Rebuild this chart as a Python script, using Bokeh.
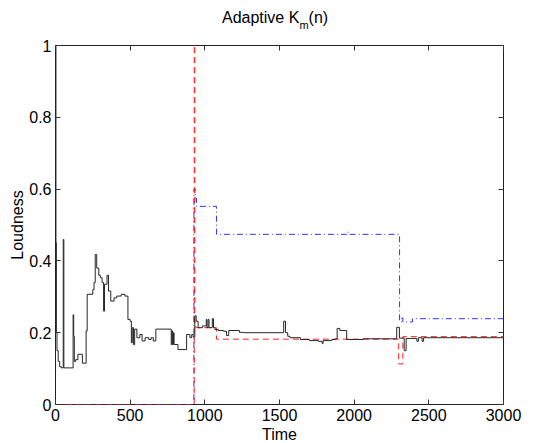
from bokeh.plotting import figure
from bokeh.models import LinearAxis, FixedTicker, Range1d, Div, CustomJSTickFormatter
from bokeh.layouts import column
from bokeh.embed import file_html
from bokeh.resources import INLINE

# ---- data ----
loud_t = [0, 3, 6, 10, 18, 28, 40, 52, 56, 118, 122, 126, 135, 150, 180, 205, 212, 250, 258,
          266, 276, 290, 300, 312, 322, 328, 345, 355, 370, 392, 410, 440, 465, 485, 500, 508,
          514, 522, 530, 545, 565, 580, 600, 625, 640, 655, 672, 775, 780, 784, 790, 794, 820,
          878, 900, 912, 922, 933, 942, 955, 985, 1010, 1014, 1022, 1028, 1050, 1058, 1068,
          1090, 1126, 1145, 1160, 1232, 1255, 1528, 1540, 1555, 1570, 1640, 1700, 1760, 1786,
          1792, 1850, 1875, 1886, 1904, 1950, 2060, 2285, 2303, 2335, 2348, 2420, 2430, 2455,
          2465, 3000]
loud_v = [1.0, 0.45, 0.2, 0.15, 0.12, 0.105, 0.102, 0.46, 0.102, 0.25, 0.19, 0.12, 0.125,
          0.14, 0.115, 0.205, 0.307, 0.32, 0.34, 0.418, 0.38, 0.36, 0.353, 0.34, 0.26, 0.335,
          0.36, 0.316, 0.288, 0.297, 0.302, 0.307, 0.302, 0.237, 0.232, 0.172, 0.214, 0.167,
          0.21, 0.186, 0.195, 0.177, 0.186, 0.181, 0.186, 0.177, 0.21, 0.167, 0.205, 0.167,
          0.2, 0.167, 0.153, 0.195, 0.186, 0.195, 0.188, 0.247, 0.232, 0.214, 0.219, 0.237,
          0.214, 0.237, 0.214, 0.239, 0.214, 0.209, 0.206, 0.204, 0.192, 0.206, 0.201, 0.2,
          0.232, 0.2, 0.19, 0.186, 0.181, 0.178, 0.176, 0.17, 0.178, 0.181, 0.183, 0.212,
          0.206, 0.181, 0.183, 0.215, 0.185, 0.15, 0.184, 0.176, 0.186, 0.176, 0.186, 0.186]

red_t = [0, 929, 933, 940, 1078, 2298, 2326, 3000]
red_v = [0.0, 1.0, 0.22, 0.214, 0.182, 0.113, 0.189, 0.189]

blue_t = [0, 927, 936, 944, 1078, 1958, 1966, 2304, 2318, 2326, 2390, 3000]
blue_v = [0.0, 0.6, 0.575, 0.552, 0.474, 0.48, 0.474, 0.23, 0.241, 0.23, 0.239, 0.239]

x_ticks = [0, 500, 1000, 1500, 2000, 2500, 3000]
x_tick_labels = ["0", "500", "1000", "1500", "2000", "2500", "3000"]
y_ticks = [0, 0.2, 0.4, 0.6, 0.8, 1.0]
y_tick_labels = ["0", "0.2", "0.4", "0.6", "0.8", "1"]

FONT = "Liberation Sans"

title = Div(
    text=("<div style=\"margin-left:222px; margin-top:10px; line-height:16px; "
          "font-family:'Liberation Sans'; font-size:16px; color:black; white-space:nowrap;\">"
          "Adaptive K<span style=\"font-size:11px; vertical-align:-6px;\">m</span>(n)</div>"),
    width=537, height=30, margin=(0, 0, 0, 0))

p = figure(frame_width=448, frame_height=359, output_backend="svg", toolbar_location=None,
           title=None, x_range=Range1d(0, 3000), y_range=Range1d(0, 1),
           min_border_left=55, min_border_right=33, min_border_top=15, min_border_bottom=38,
           margin=(0, 0, 0, 0))
p.background_fill_color = "white"
p.border_fill_color = "white"
p.outline_line_color = "#222222"
p.outline_line_width = 1
p.grid.visible = False

p.step(blue_t, blue_v, mode="after", line_color="#3333ff", line_width=1, line_dash="6 3 1 3")
p.step(red_t, red_v, mode="after", line_color="#ff2020", line_width=1, line_dash="6 4")
p.step(loud_t, loud_v, mode="after", line_color="#262626", line_width=1)

def style_axis(ax, ticks, labels):
    ax.ticker = FixedTicker(ticks=ticks)
    ax.major_label_overrides = {t: l for t, l in zip(ticks, labels)}
    ax.major_tick_in = 5
    ax.major_tick_out = 0
    ax.minor_tick_line_color = None
    ax.major_tick_line_color = "#333333"
    ax.axis_line_color = None
    ax.major_label_text_font = FONT
    ax.major_label_text_font_size = "16px"
    ax.major_label_text_color = "black"
    ax.axis_label_text_font = FONT
    ax.axis_label_text_font_size = "16px"
    ax.axis_label_text_font_style = "normal"
    ax.axis_label_text_color = "black"

xa = p.xaxis[0]
style_axis(xa, x_ticks, x_tick_labels)
xa.major_label_standoff = 4
xa.axis_label = "Time"
xa.axis_label_standoff = 2

ya = p.yaxis[0]
style_axis(ya, y_ticks, y_tick_labels)
ya.major_label_standoff = 4
ya.axis_label = "Loudness"
ya.axis_label_standoff = 0

blank = CustomJSTickFormatter(code="return '';")

top = LinearAxis(ticker=FixedTicker(ticks=x_ticks), formatter=blank,
                 major_tick_in=5, major_tick_out=0, minor_tick_line_color=None,
                 major_tick_line_color="#333333", axis_line_color=None, major_label_standoff=0)
p.add_layout(top, "above")

right = LinearAxis(ticker=FixedTicker(ticks=y_ticks), formatter=blank,
                   major_tick_in=5, major_tick_out=0, minor_tick_line_color=None,
                   major_tick_line_color="#333333", axis_line_color=None, major_label_standoff=0)
p.add_layout(right, "right")

layout = column(title, p, margin=(0, 0, 0, 0), spacing=0)

open("out.html", "w").write(file_html(layout, INLINE))
